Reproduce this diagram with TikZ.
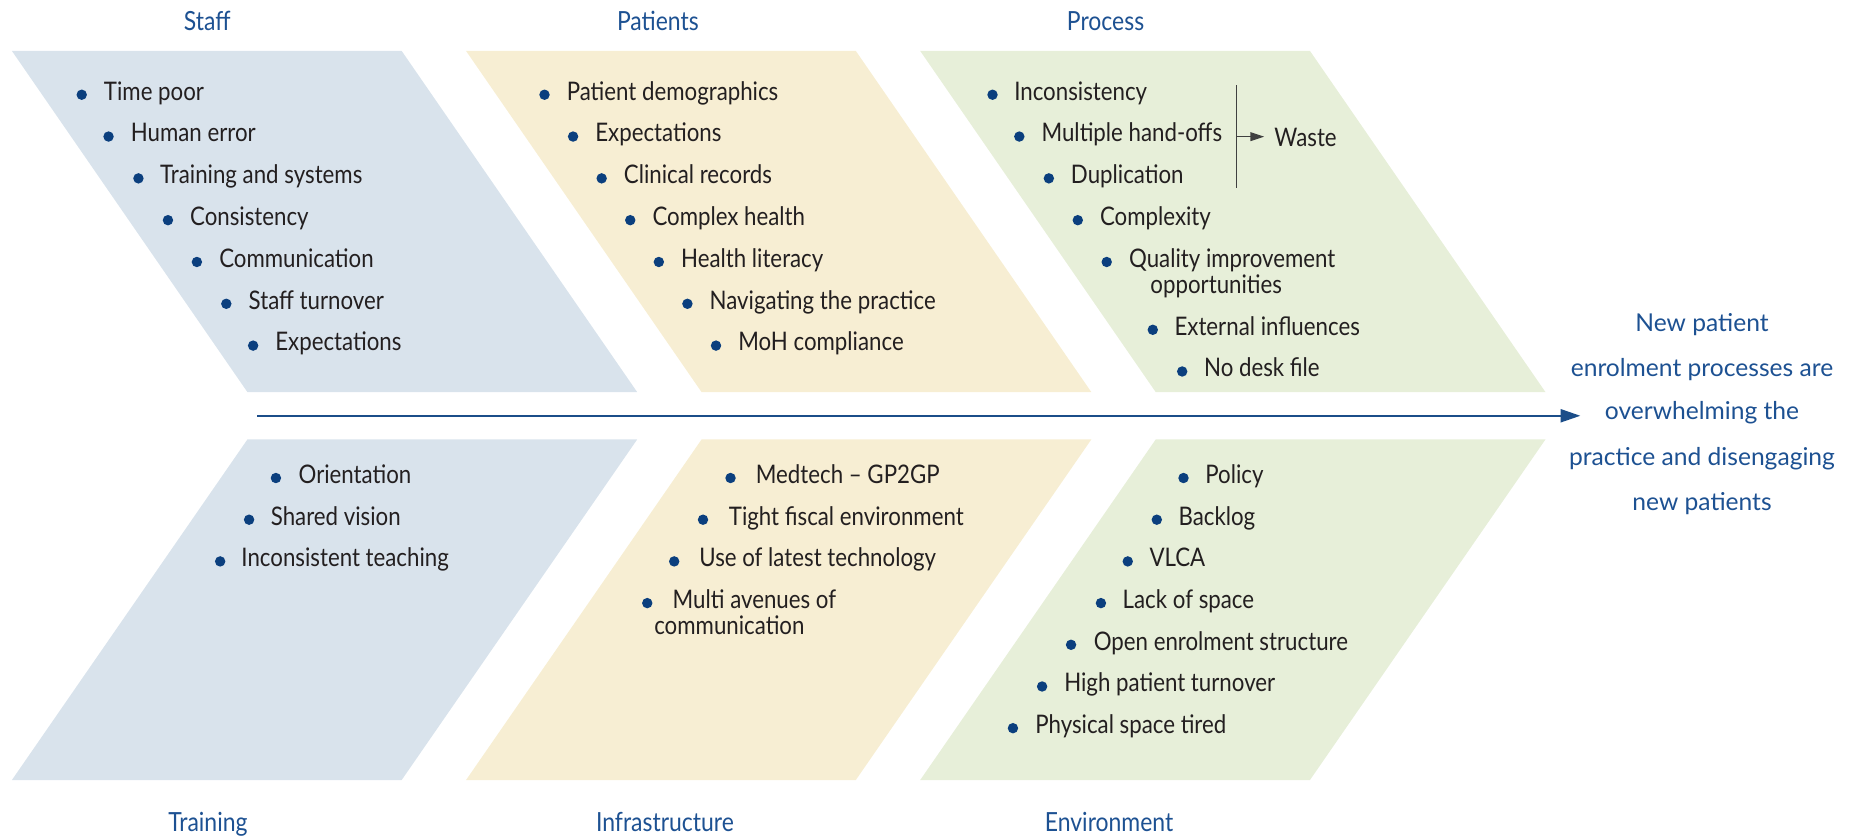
\documentclass[tikz,border=0pt]{standalone}
\usepackage{fontspec}
\setmainfont{Lato}
\newfontfamily\condfont[FakeStretch=0.87]{Lato}
\usetikzlibrary{arrows.meta}

\definecolor{bluegrey}{HTML}{D9E3EC}
\definecolor{sand}{HTML}{F7EED3}
\definecolor{sage}{HTML}{E7EFD9}
\definecolor{navy}{HTML}{0B3F7E}
\definecolor{heading}{HTML}{1D5192}
\definecolor{bodytext}{HTML}{231F20}
\definecolor{spine}{HTML}{1B4D89}

\tikzset{
  item/.style={anchor=base west, inner sep=0pt, text=bodytext,
    font=\condfont\fontsize{13}{15}\selectfont},
  category/.style={anchor=base, inner sep=0pt, text=heading,
    font=\condfont\fontsize{13.4}{15}\selectfont},
  effect/.style={anchor=base, inner sep=0pt, text=heading,
    font=\fontsize{12.5}{15}\selectfont},
  bulletdot/.style={fill=navy},
}

% one bullet point: name, bullet x, text x, baseline y, text
\newcommand\cause[5]{%
  \fill[bulletdot] (#2,#4-4.5) circle[radius=2.65pt];
  \node[item] (#1) at (#3,#4) {#5};}

\begin{document}
\begin{tikzpicture}[x=0.6pt,y=-0.6pt]
\useasboundingbox (0,0) rectangle (1568,709);

% upper bones
\fill[bluegrey] (10,43) -- (340,43) -- (539.5,332) -- (209.5,332) -- cycle;
\fill[sand]     (394.5,43) -- (724.5,43) -- (924,332) -- (594,332) -- cycle;
\fill[sage]     (779,43) -- (1109,43) -- (1308.5,332) -- (978.5,332) -- cycle;
% lower bones
\fill[bluegrey] (209.5,372) -- (539.5,372) -- (340,660.5) -- (10,660.5) -- cycle;
\fill[sand]     (594,372) -- (924,372) -- (724.5,660.5) -- (394.5,660.5) -- cycle;
\fill[sage]     (978.5,372) -- (1308.5,372) -- (1109,660.5) -- (779,660.5) -- cycle;

% spine
\coordinate (tail) at (217.6,352);
\coordinate (head) at (1338,352);
\draw[spine, line width=1pt, -{Triangle[length=10pt,width=6.6pt]}] (tail) -- (head);

% category headings
\node[category] (staff)    at (175.5,26) {Staff};
\node[category] (patients) at (557,26)   {Patients};
\node[category] (process)  at (936,26)   {Process};
\node[category] (training) at (176,704) {Training};
\node[category] (infra)    at (563,704) {Infrastructure};
\node[category] (environ)  at (939,704) {Environment};

% Staff
\cause{st1}{69.2}{87.7}{84.7}{Time poor}
\cause{st2}{91.9}{110.4}{120.1}{Human error}
\cause{st3}{117.2}{135.3}{155.5}{Training and systems}
\cause{st4}{142.2}{160.6}{190.9}{Consistency}
\cause{st5}{166.7}{185.3}{226.3}{Communication}
\cause{st6}{191.6}{210.2}{261.7}{Staff turnover}
\cause{st7}{214.3}{232.8}{297.1}{Expectations}

% Patients
\cause{pt1}{461}{479.5}{84.7}{Patient demographics}
\cause{pt2}{485.2}{503.7}{120.1}{Expectations}
\cause{pt3}{509.4}{527.9}{155.5}{Clinical records}
\cause{pt4}{533.6}{552.1}{190.9}{Complex health}
\cause{pt5}{557.8}{576.3}{226.3}{Health literacy}
\cause{pt6}{582}{600.5}{261.7}{Navigating the practice}
\cause{pt7}{606.2}{624.7}{297.1}{MoH compliance}

% Process
\cause{pr1}{840.3}{858.4}{84.7}{Inconsistency}
\cause{pr2}{863}{881.5}{120.1}{Multiple hand-offs}
\cause{pr3}{888}{906.4}{155.5}{Duplication}
\cause{pr4}{912.5}{931}{190.9}{Complexity}
\cause{pr5}{937}{955.6}{226.3}{Quality improvement}
\node[item] (pr5b) at (973.7,248.3) {opportunities};
\cause{pr6}{976}{994.1}{283.7}{External influences}
\cause{pr7}{1000.9}{1019.1}{319}{No desk file}

% waste bracket
\coordinate (wtop) at (1046.6,72);
\coordinate (wbot) at (1046.6,159.5);
\coordinate (wmid) at (1046.6,115.7);
\node[item] (waste) at (1078.7,124.2) {Waste};
\draw[black!75, line width=0.55pt] (wtop) -- (wbot);
\draw[black!75, line width=0.55pt, -{Triangle[length=7pt,width=4.5pt]}]
  (wmid) -- ([xshift=-5pt]waste.west |- wmid);

% Training
\cause{tr1}{233.6}{252.5}{409.2}{Orientation}
\cause{tr2}{210.9}{229}{444.5}{Shared vision}
\cause{tr3}{186.4}{204.1}{479.8}{Inconsistent teaching}

% Infrastructure
\cause{in1}{618.5}{639.6}{409.2}{Medtech – GP2GP}
\cause{in2}{595.2}{616.8}{444.5}{Tight fiscal environment}
\cause{in3}{570.8}{591.8}{479.8}{Use of latest technology}
\cause{in4}{548}{569.2}{515.1}{Multi avenues of}
\node[item] (in4b) at (553.6,537.6) {communication};

% Environment
\cause{en1}{1002}{1020.2}{409.2}{Policy}
\cause{en2}{979.4}{997.5}{444.5}{Backlog}
\cause{en3}{954.8}{972.9}{479.8}{VLCA}
\cause{en4}{932.1}{950.2}{515.1}{Lack of space}
\cause{en5}{906.8}{925.7}{550.4}{Open enrolment structure}
\cause{en6}{882.3}{900.7}{585.7}{High patient turnover}
\cause{en7}{857.6}{876.2}{621}{Physical space tired}

% effect
\node[effect] (ef1) at (1441,280.8) {New patient};
\node[effect] (ef2) at (1441,318.9) {enrolment processes are};
\node[effect] (ef3) at (1441,355)   {overwhelming the};
\node[effect] (ef4) at (1441,393.7) {practice and disengaging};
\node[effect] (ef5) at (1441,431.8) {new patients};
\end{tikzpicture}
\end{document}
